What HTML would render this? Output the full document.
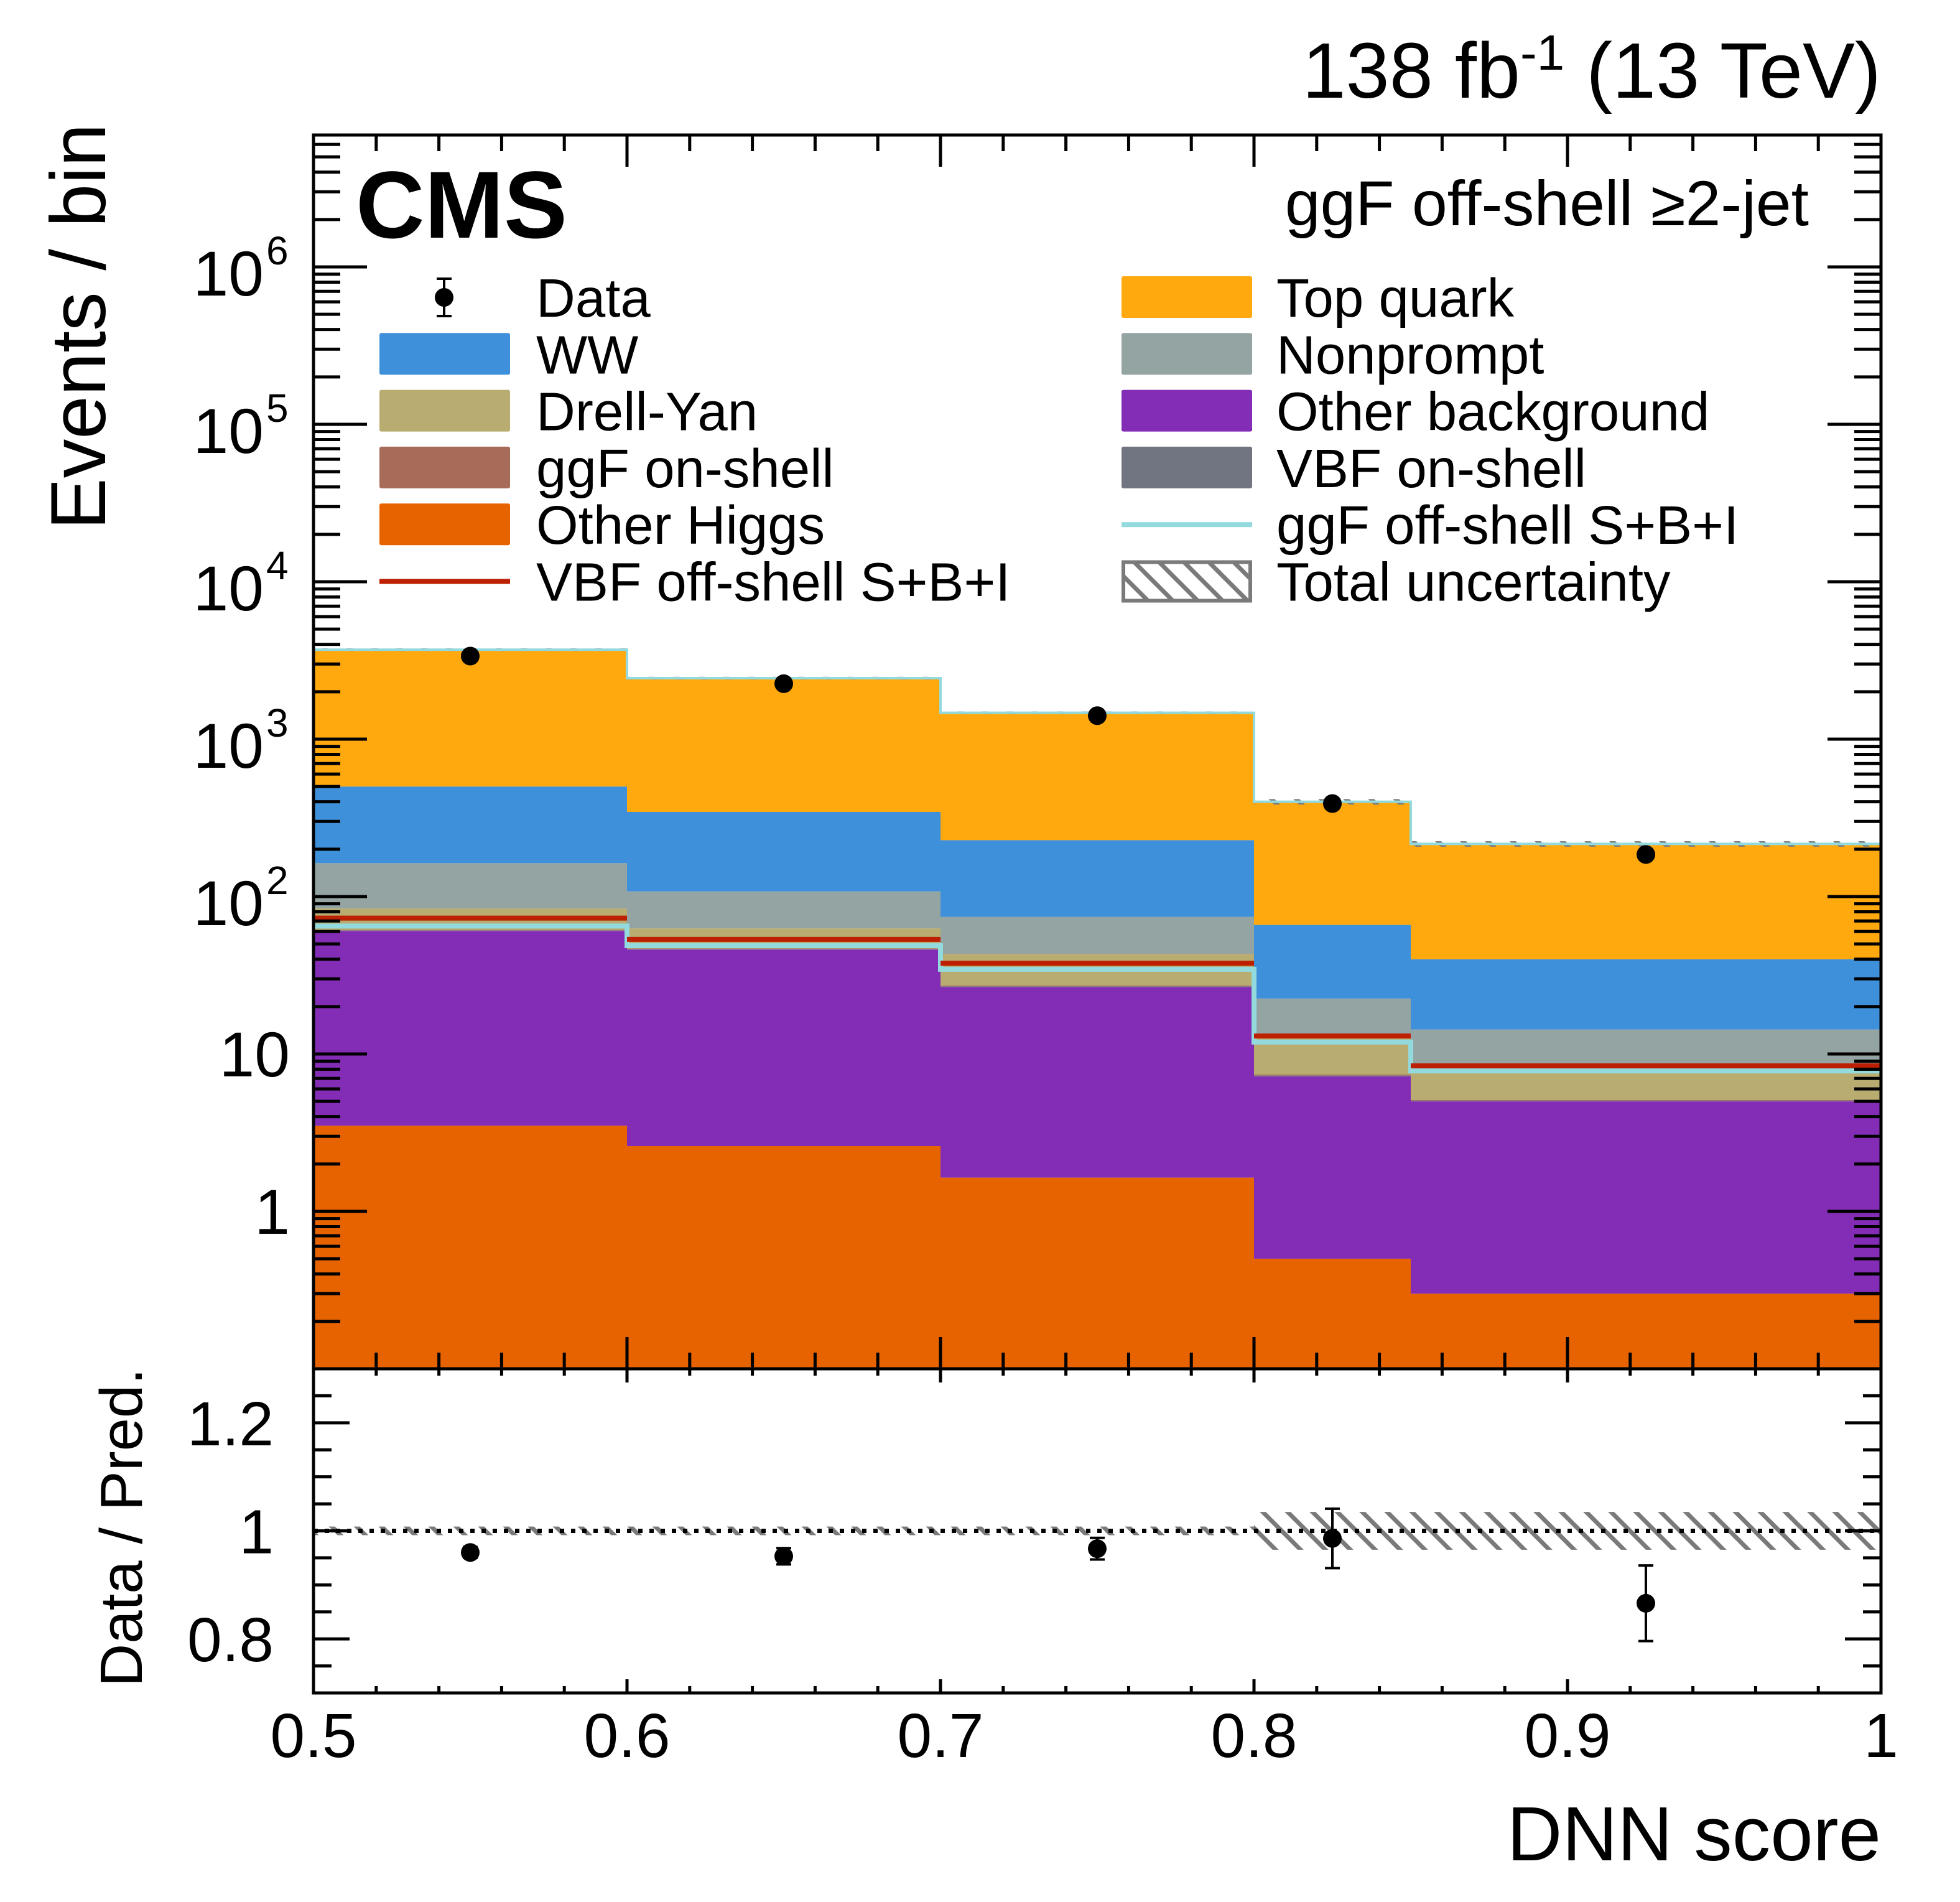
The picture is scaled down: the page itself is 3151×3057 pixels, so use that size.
<!DOCTYPE html>
<html><head><meta charset="utf-8"><style>
html,body{margin:0;padding:0;background:#fff}
svg{display:block;font-family:"Liberation Sans",Arial,sans-serif}
</style></head><body>
<svg id="chart" xmlns="http://www.w3.org/2000/svg" width="3151" height="3057" viewBox="0 0 3151 3057">
<defs>
<pattern id="hatch" patternUnits="userSpaceOnUse" width="40" height="40">
<path d="M-10,-10 L50,50 M-10,30 L10,50 M30,-10 L50,10" stroke="#7a7a7a" stroke-width="7"/>
</pattern>
<clipPath id="mainclip"><rect x="504" y="217" width="2520" height="1983"/></clipPath>
<clipPath id="ratioclip"><rect x="504" y="2200" width="2520" height="521"/></clipPath>
</defs>
<g id="stack" clip-path="url(#mainclip)"></g>
<g id="lines" clip-path="url(#mainclip)"></g>
<g id="ratio" clip-path="url(#ratioclip)"></g>
<g id="points"></g>
<g id="axes"></g>
<g id="legend"></g>
<text x="3024" y="157" font-size="126" text-anchor="end">138 fb<tspan dy="-45" font-size="80">-1</tspan><tspan dy="45"> (13 TeV)</tspan></text>
<text x="572" y="382" font-size="153" font-weight="bold">CMS</text>
<text x="2908" y="362" font-size="102" text-anchor="end">ggF off-shell ≥2-jet</text>
<text transform="translate(169,525) rotate(-90)" font-size="125" text-anchor="middle">Events / bin</text>
<text transform="translate(228,2455) rotate(-90)" font-size="96" text-anchor="middle">Data / Pred.</text>
<text x="3024" y="2990" font-size="123" text-anchor="end">DNN score</text>
</svg>
<script>
const binEdges=[0.5,0.6,0.7,0.8,0.85,1.0];
const otherHiggs=[3.5,2.6,1.64,0.5,0.3];
const otherBkg=[57,43.4,25,6.7,4.7];
const vbfOnShell=[0.5,0.4,0.3,0.1,0.05];
const ggfOnShell=[0.5,0.4,0.3,0.1,0.05];
const drellYan=[22.5,16,16,5.4,2.7];
const nonprompt=[79,45,31,9.7,6.5];
const ww=[337,237,154,43.5,25.7];
const topQuark=[3200,2095,1242,334,176];
const vbfOffShell=[73,53.4,37.7,13,8.4];
const ggfOffShell=[65,48.7,34.5,11.9,7.8];
const totalUnc=[0.02,0.02,0.02,0.04,0.04];
const dataX=[0.55,0.65,0.75,0.825,0.925];
const dataY=[3370,2250,1410,390,185];
const ratioY=[0.96,0.953,0.967,0.986,0.866];
const ratioErr=[0.01,0.015,0.02,0.055,0.07];
const ratioUnc=[0.008,0.008,0.008,0.035,0.035];
const xTicks=[0.5,0.6,0.7,0.8,0.9,1.0];
const xTickLabels=["0.5","0.6","0.7","0.8","0.9","1"];
const yPowers=[2,3,4,5,6];
const yPlain=[[10,"10"],[1,"1"]];
const ratioTicks=[0.8,1.0,1.2];
const ratioTickLabels=["0.8","1","1.2"];

const NS="http://www.w3.org/2000/svg";
const X0=504,X1=3024,YT=217,YB=2200,RB=2721;
const xs=v=>X0+(v-0.5)/0.5*(X1-X0);
const ys=v=>429+(6-Math.log10(v))*253;
const yr=v=>2200+(1.3-v)/0.6*(RB-2200);
function mk(tag,attrs,parent){const e=document.createElementNS(NS,tag);for(const k in attrs)e.setAttribute(k,attrs[k]);parent.appendChild(e);return e;}
const stackG=document.getElementById('stack'),linesG=document.getElementById('lines'),ratioG=document.getElementById('ratio'),ptsG=document.getElementById('points'),axG=document.getElementById('axes'),legG=document.getElementById('legend');

const comps=[[otherHiggs,'#e76300','other-higgs'],[otherBkg,'#832db6','other-background'],[vbfOnShell,'#717581','vbf-on-shell'],[ggfOnShell,'#a96b59','ggf-on-shell'],[drellYan,'#b9ac70','drell-yan'],[nonprompt,'#94a4a2','nonprompt'],[ww,'#3f90da','ww'],[topQuark,'#ffa90e','top-quark']];
const cum=[0,0,0,0,0];
comps.forEach(c=>{
  for(let i=0;i<5;i++){
    const lo=cum[i],hi=cum[i]+c[0][i];
    const yl=lo>0?ys(lo):YB+10, yh=ys(hi);
    const r=mk('rect',{x:xs(binEdges[i]),y:yh,width:xs(binEdges[i+1])-xs(binEdges[i]),height:yl-yh,fill:c[1]},stackG);
    
    
    cum[i]=hi;
  }
});
for(let i=0;i<5;i++){
  const r=mk('rect',{x:xs(binEdges[i]),y:ys(cum[i]*(1+totalUnc[i])),width:xs(binEdges[i+1])-xs(binEdges[i]),height:ys(cum[i]*(1-totalUnc[i]))-ys(cum[i]*(1+totalUnc[i])),fill:'url(#hatch)'},stackG);
  
  
}
function stepPath(vals){let d='';for(let i=0;i<5;i++){const y=ys(vals[i]);d+=(i?'L':'M')+xs(binEdges[i])+','+y+'L'+xs(binEdges[i+1])+','+y;}return d;}
let p=mk('path',{d:stepPath(cum),fill:'none',stroke:'#92dadd','stroke-width':4},linesG);


p=mk('path',{d:stepPath(ggfOffShell),fill:'none',stroke:'#92dadd','stroke-width':8},linesG);


for(let i=0;i<5;i++){
  const l=mk('line',{x1:xs(binEdges[i]),x2:xs(binEdges[i+1]),y1:ys(vbfOffShell[i]),y2:ys(vbfOffShell[i]),stroke:'#bd1f01','stroke-width':8},linesG);
  
  
}
for(let i=0;i<5;i++){
  const c=mk('circle',{cx:xs(dataX[i]),cy:ys(dataY[i]),r:15,fill:'#000'},ptsG);
  
  
}
for(let i=0;i<5;i++){
  const r=mk('rect',{x:xs(binEdges[i]),y:yr(1+ratioUnc[i]),width:xs(binEdges[i+1])-xs(binEdges[i]),height:yr(1-ratioUnc[i])-yr(1+ratioUnc[i]),fill:'url(#hatch)'},ratioG);
  
  
}
let dl=mk('line',{x1:X0,x2:X1,y1:yr(1),y2:yr(1),stroke:'#000','stroke-width':7,'stroke-dasharray':'7 11'},ratioG);


for(let i=0;i<5;i++){
  const x=xs(dataX[i]);
  const e=mk('path',{d:`M${x},${yr(ratioY[i]+ratioErr[i])}L${x},${yr(ratioY[i]-ratioErr[i])}M${x-12},${yr(ratioY[i]+ratioErr[i])}L${x+12},${yr(ratioY[i]+ratioErr[i])}M${x-12},${yr(ratioY[i]-ratioErr[i])}L${x+12},${yr(ratioY[i]-ratioErr[i])}`,stroke:'#000','stroke-width':4},ptsG);
  
  
  const c=mk('circle',{cx:x,cy:yr(ratioY[i]),r:15,fill:'#000'},ptsG);
  
  
}
let f=mk('rect',{x:X0,y:YT,width:X1-X0,height:YB-YT,fill:'none',stroke:'#000','stroke-width':5},axG);


f=mk('rect',{x:X0,y:YB,width:X1-X0,height:RB-YB,fill:'none',stroke:'#000','stroke-width':5},axG);


let td='';
for(let k=0;k<=25;k++){const v=0.5+k*0.02,x=xs(v),maj=(k%5===0);
  const lm=maj?51:26, lr=maj?22:11;
  td+=`M${x},${YT}v${lm}M${x},${YB}v${-lm}M${x},${YB}v${lr}M${x},${RB}v${-lr}`;}
for(let e=-1;e<=6;e++){for(let m=1;m<=9;m++){const v=m*Math.pow(10,e),y=ys(v);if(y<YT||y>YB)continue;const l=m===1?86:43;td+=`M${X0},${y}h${l}M${X1},${y}h${-l}`;}}
for(let k=0;k<=12;k++){const v=0.7+k*0.05,y=yr(v);const l=(k%4===2)?58:29;if(y<=YB+1||y>=RB-1)continue;td+=`M${X0},${y}h${l}M${X1},${y}h${-l}`;}
let t=mk('path',{d:td,stroke:'#000','stroke-width':5,fill:'none'},axG);


xTicks.forEach((v,i)=>{const tx=mk('text',{x:xs(v),y:2824,'font-size':100,'text-anchor':'middle'},axG);tx.textContent=xTickLabels[i];
  
  });
yPowers.forEach(e=>{const y=ys(Math.pow(10,e));const tx=mk('text',{x:424,y:y+46,'font-size':102,'text-anchor':'end'},axG);tx.textContent='10';
  
  
  const s=mk('text',{x:428,y:y-4,'font-size':64},axG);s.textContent=String(e);
  
  });
yPlain.forEach(a=>{const tx=mk('text',{x:466,y:ys(a[0])+36,'font-size':102,'text-anchor':'end'},axG);tx.textContent=a[1];
  
  });
ratioTicks.forEach((v,i)=>{const tx=mk('text',{x:440,y:yr(v)+36,'font-size':100,'text-anchor':'end'},axG);tx.textContent=ratioTickLabels[i];
  
  });
const legL=[['Data','data'],['WW','#3f90da'],['Drell-Yan','#b9ac70'],['ggF on-shell','#a96b59'],['Other Higgs','#e76300'],['VBF off-shell S+B+I','redline']];
const legR=[['Top quark','#ffa90e'],['Nonprompt','#94a4a2'],['Other background','#832db6'],['VBF on-shell','#717581'],['ggF off-shell S+B+I','cyanline'],['Total uncertainty','hatch']];
function legEntry(item,sx,tx,cy){
  const g=mk('g',{},legG);
  
  
  const k=item[1];
  if(k==='data'){mk('circle',{cx:sx+104,cy:cy,r:15,fill:'#000'},g);mk('path',{d:`M${sx+104},${cy-30}v60M${sx+92},${cy-30}h24M${sx+92},${cy+30}h24`,stroke:'#000','stroke-width':4},g);}
  else if(k==='redline'){mk('rect',{x:sx,y:cy-4,width:210,height:8,fill:'#bd1f01'},g);}
  else if(k==='cyanline'){mk('rect',{x:sx,y:cy-4,width:210,height:8,fill:'#92dadd'},g);}
  else if(k==='hatch'){mk('rect',{x:sx+3,y:cy-31,width:204,height:62,fill:'url(#hatch)',stroke:'#7a7a7a','stroke-width':6},g);}
  else mk('rect',{x:sx,y:cy-34,width:210,height:67,rx:3,fill:k},g);
  const tt=mk('text',{x:tx,y:cy+31,'font-size':87},g);tt.textContent=item[0];
}
legL.forEach((it,i)=>legEntry(it,610,862,478+i*91.3));
legR.forEach((it,i)=>legEntry(it,1803,2052,478+i*91.3));
</script>
</body></html>
